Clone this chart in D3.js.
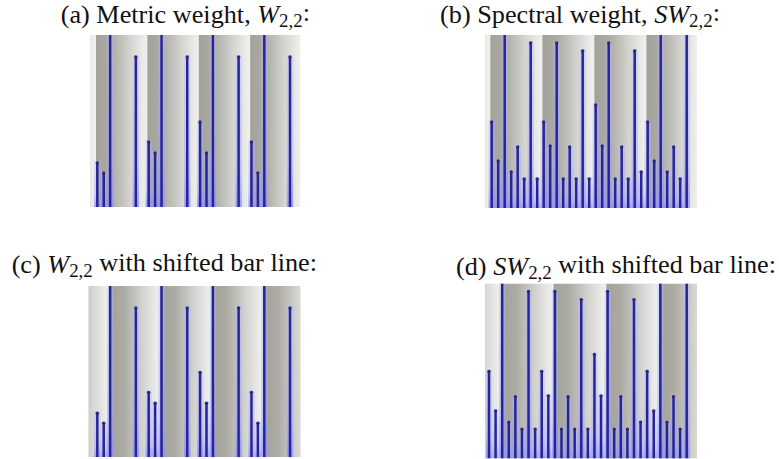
<!DOCTYPE html>
<html>
<head>
<meta charset="utf-8">
<script src="https://cdn.jsdelivr.net/npm/d3@7"></script>
<style>
  body { margin: 0; background: #fff; }
  svg { display: block; }
  text { font-family: "Liberation Serif", "DejaVu Serif", serif; fill: #111; }
</style>
</head>
<body>
<svg id="chart" width="779" height="459"></svg>
<script>
// slot index (eighth-note grid) and height (percent of the panel) of each bar
const metricSlots = [0, 1, 2, 6, 8, 9, 10, 14, 16, 17, 18, 22, 24, 25, 26, 30];
const metricValues = [25.6, 19.8, 100, 87.2, 37.8, 31.4, 100, 87.2, 49.4, 31.4, 100, 87.2, 37.8, 19.8, 100, 87.2];

const spectralSlots = [0, 1, 2, 3, 4, 5, 6, 7, 8, 9, 10, 11, 12, 13, 14, 15,
                       16, 17, 18, 19, 20, 21, 22, 23, 24, 25, 26, 27, 28, 29, 30];
const spectralValues = [49.7, 27.2, 100, 20.8, 35.3, 16.8, 95.4, 16.8,
                        49.7, 35.8, 95.4, 16.8, 35.3, 16.8, 90.8, 16.8,
                        59.5, 35.8, 95.4, 16.8, 35.3, 16.8, 90.8, 20.8,
                        49.7, 27.2, 100, 20.8, 35.3, 16.8, 100];

// bar line starts (slot) for the normal and the shifted version
const barLineStarts = [-8, 0, 8, 16, 24, 32];
const shiftedBarLineStarts = [-6, 2, 10, 18, 26];

const titles = [
  {pre: "(a) Metric weight, ", sym: "W", post: ":"},
  {pre: "(b) Spectral weight, ", sym: "SW", post: ":"},
  {pre: "(c) ", sym: "W", post: " with shifted bar line:"},
  {pre: "(d) ", sym: "SW", post: " with shifted bar line:"}
];

const panels = [
  {title: titles[0], slots: metricSlots, values: metricValues, starts: barLineStarts,
   left: 90, right: 300, top: 35, bottom: 207, x0: 97.3, x30: 290, tx: 310, ty: 22.5},
  {title: titles[1], slots: spectralSlots, values: spectralValues, starts: barLineStarts,
   left: 485, right: 697, top: 35, bottom: 208, x0: 491.7, x30: 686.7, tx: 720, ty: 22.5},
  {title: titles[2], slots: metricSlots, values: metricValues, starts: shiftedBarLineStarts,
   left: 88.5, right: 300.5, top: 286, bottom: 457, x0: 97.3, x30: 290, tx: 317, ty: 273},
  {title: titles[3], slots: spectralSlots, values: spectralValues, starts: shiftedBarLineStarts,
   left: 485, right: 697, top: 283.5, bottom: 458.5, x0: 489, x30: 686.7, tx: 776, ty: 274.5}
];

const svg = d3.select("#chart");
const defs = svg.append("defs");

const grad = defs.append("linearGradient")
  .attr("id", "band")
  .attr("x1", 0).attr("x2", 1).attr("y1", 0).attr("y2", 0);
[[0, "#a2a29a"], [0.28, "#abaaa3"], [0.65, "#d2d2ce"], [0.92, "#ebebe9"], [1, "#f0f0ef"]]
  .forEach(s => grad.append("stop").attr("offset", s[0]).attr("stop-color", s[1]));

const glow = defs.append("linearGradient")
  .attr("id", "glow")
  .attr("x1", 0).attr("x2", 0).attr("y1", 0).attr("y2", 1);
[[0, "#b8b8ff", 0.35], [0.75, "#a0a0ff", 0.5], [1, "#8c8cff", 0.8]]
  .forEach(s => glow.append("stop").attr("offset", s[0]).attr("stop-color", s[1]).attr("stop-opacity", s[2]));

const titleNodes = [];

panels.forEach((p, i) => {
  const x = d3.scaleLinear().domain([0, 30]).range([p.x0, p.x30]);
  const y = d3.scaleLinear().domain([0, 100]).range([p.bottom, p.top]);

  defs.append("clipPath").attr("id", "clip" + i)
    .append("rect")
    .attr("x", p.left).attr("y", p.top)
    .attr("width", p.right - p.left).attr("height", p.bottom - p.top);

  const g = svg.append("g").attr("clip-path", `url(#clip${i})`);

  g.append("rect")
    .attr("x", p.left).attr("y", p.top)
    .attr("width", p.right - p.left).attr("height", p.bottom - p.top)
    .attr("fill", "#ededeb");

  g.selectAll("rect.band")
    .data(p.starts)
    .join("rect")
    .attr("class", "band")
    .attr("x", d => x(d - 0.2))
    .attr("y", p.top)
    .attr("width", d => x(d + 7.8) - x(d - 0.2))
    .attr("height", p.bottom - p.top)
    .attr("fill", "url(#band)");

  const bars = p.slots.map((s, k) => ({slot: s, value: p.values[k]}));

  // soft blue halo around every bar
  g.selectAll("rect.halo")
    .data(bars)
    .join("rect")
    .attr("class", "halo")
    .attr("x", d => x(d.slot) - 3.2)
    .attr("y", d => y(d.value) - 2)
    .attr("width", 6.4)
    .attr("height", d => p.bottom - y(d.value) + 2)
    .attr("fill", "url(#glow)");

  g.selectAll("line.bar")
    .data(bars)
    .join("line")
    .attr("class", "bar")
    .attr("x1", d => x(d.slot)).attr("x2", d => x(d.slot))
    .attr("y1", p.bottom)
    .attr("y2", d => y(d.value))
    .attr("stroke", "#25259a")
    .attr("stroke-width", 2.5);

  g.selectAll("circle.cap")
    .data(bars.filter(d => d.value < 100))
    .join("circle")
    .attr("class", "cap")
    .attr("cx", d => x(d.slot))
    .attr("cy", d => y(d.value))
    .attr("r", 1.7)
    .attr("fill", "#2a2a70");

  // title with the math symbol in italics and a 2,2 subscript
  const t = svg.append("text")
    .attr("x", p.tx).attr("y", p.ty)
    .attr("text-anchor", "end")
    .style("font-size", "22px");
  t.append("tspan").text(p.title.pre);
  t.append("tspan").style("font-style", "italic").text(p.title.sym);
  t.append("tspan").attr("dy", "0.22em").style("font-size", "0.72em").text("2,2");
  t.append("tspan").attr("dy", "-0.22em").text(p.title.post);
  titleNodes.push(t);
});

// one font size for all captions, sized so caption (b) is as wide as in the picture
const wb = titleNodes[1].node().getComputedTextLength();
const fs = (22 * 280 / wb).toFixed(2) + "px";
titleNodes.forEach(t => t.style("font-size", fs));
</script>
</body>
</html>
